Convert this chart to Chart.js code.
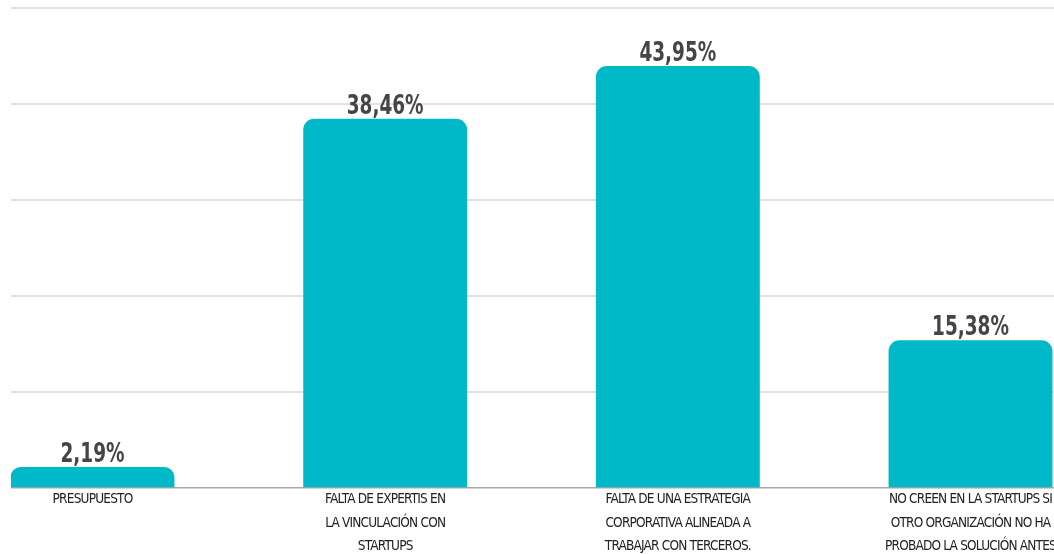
<!DOCTYPE html>
<html>
<head>
<meta charset="utf-8">
<script src="https://cdn.jsdelivr.net/npm/chart.js@4/dist/chart.umd.min.js"></script>
<style>
  html, body { margin: 0; padding: 0; background: #fff; }
  #wrap { position: relative; width: 1054px; height: 554px; }
</style>
</head>
<body>
<div id="wrap"><canvas id="chart-barreras"></canvas></div>
<script>
/* ===== DATA ===== */
const categories = [
    ['PRESUPUESTO'],
    ['FALTA DE EXPERTIS EN', 'LA VINCULACIÓN CON', 'STARTUPS'],
    ['FALTA DE UNA ESTRATEGIA', 'CORPORATIVA ALINEADA A', 'TRABAJAR CON TERCEROS.'],
    ['NO CREEN EN LA STARTUPS SI', 'OTRO ORGANIZACIÓN NO HA', 'PROBADO LA SOLUCIÓN ANTES']
];
const values = [2.19, 38.46, 43.95, 15.38];
const yTicks = [0, 10, 20, 30, 40, 50];

const TEAL = '#00b9c8';
const FONT = "'Liberation Sans Narrow', 'DejaVu Sans Condensed', 'Arial Narrow', sans-serif";

const fmtPct = v => v.toFixed(2).replace('.', ',') + '%';

// tighter letters for the axis text
const tightText = {
    id: 'tightText',
    beforeDraw(chart) { chart.ctx.letterSpacing = '-0.8px'; }
};

// value labels above each bar, squeezed horizontally
const barValueLabels = {
    id: 'barValueLabels',
    afterDatasetsDraw(chart) {
        const ctx = chart.ctx;
        const meta = chart.getDatasetMeta(0);
        meta.data.forEach((bar, i) => {
            ctx.save();
            ctx.letterSpacing = '0px';
            ctx.font = "bold 27px " + FONT;
            ctx.fillStyle = '#454545';
            ctx.textAlign = 'center';
            ctx.textBaseline = 'alphabetic';
            ctx.translate(bar.x, bar.y - 5);
            ctx.scale(0.76, 1);
            ctx.fillText(fmtPct(values[i]), 0, 0);
            ctx.restore();
        });
    }
};

const ctx = document.getElementById('chart-barreras');
new Chart(ctx, {
    type: 'bar',
    data: {
        datasets: [{
            data: values.map((v, i) => ({ x: i, y: v })),
            backgroundColor: TEAL,
            borderWidth: 0,
            borderRadius: { topLeft: 11, topRight: 11, bottomLeft: 0, bottomRight: 0 },
            borderSkipped: 'bottom',
            categoryPercentage: 0.7,
            barPercentage: 0.8
        }]
    },
    options: {
        responsive: true, maintainAspectRatio: false, animation: false,
        layout: { padding: { left: 11, right: 0, top: 8, bottom: 0 } },
        plugins: { legend: { display: false }, tooltip: { enabled: false } },
        scales: {
            x: {
                type: 'linear',
                offset: false,
                min: -0.2785, max: 3.2853,
                grid: { display: false, drawTicks: false },
                border: { display: false },
                afterBuildTicks: s => { s.ticks = categories.map((_, i) => ({ value: i })); },
                afterFit: s => { s.height = 66; s.paddingLeft = 0; s.paddingRight = 0; },
                ticks: {
                    autoSkip: false, maxRotation: 0, padding: 0,
                    color: '#222',
                    font: { family: FONT, size: 13.5, lineHeight: 23.5 / 13.5 },
                    callback: v => categories[v]
                }
            },
            y: {
                min: 0, max: 50,
                afterBuildTicks: s => { s.ticks = yTicks.map(v => ({ value: v })); },
                afterFit: s => { s.width = 0; s.paddingTop = 0; s.paddingBottom = 0; },
                ticks: { display: false },
                border: { display: false },
                grid: {
                    drawTicks: false,
                    color: c => c.tick.value === 0 ? '#a8a8a8' : '#e2e2e2',
                    lineWidth: c => c.tick.value === 0 ? 1.5 : 2
                }
            }
        }
    },
    plugins: [tightText, barValueLabels]
});
</script>
</body>
</html>
